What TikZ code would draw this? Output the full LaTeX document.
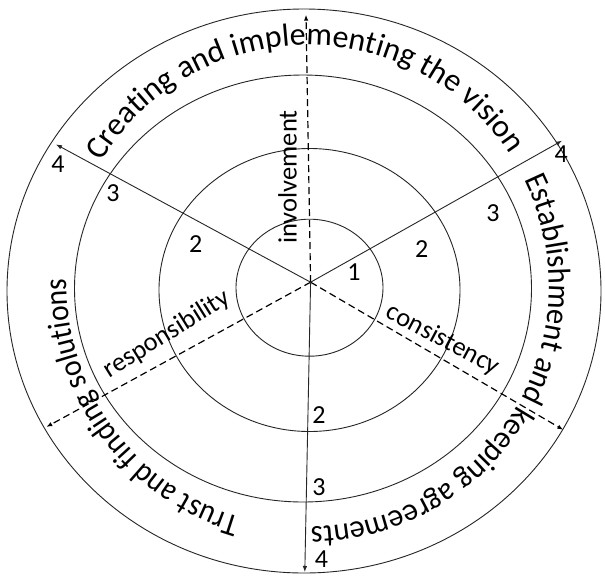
\documentclass[tikz,border=0pt]{standalone}
\usepackage{fontspec}
\setmainfont{Carlito}
\newfontfamily\ringA{Carlito}
\newfontfamily\ringB[FakeStretch=0.95]{Carlito}
\newfontfamily\ringC[FakeStretch=0.92]{Carlito}
\usetikzlibrary{arrows.meta,decorations.text}
\newcommand{\ringsize}{\fontsize{32}{38}\selectfont}
\begin{document}
\begin{tikzpicture}[x=1pt,y=1pt,
  ring/.style={draw=black!85, line width=0.9pt},
  solidray/.style={draw=black!85, line width=0.9pt, -{Latex[length=6pt,width=4.5pt]}},
  dashray/.style={draw=black, line width=1.2pt, dash pattern=on 7pt off 4pt, -{Latex[length=6pt,width=4.5pt]}},
  lbl/.style={font=\fontsize{26.5}{30}\selectfont, inner sep=0pt},
  num/.style={font=\fontsize{26}{30}\selectfont, inner sep=0pt},
  ringtext/.style 2 args={decorate, decoration={text along path, text align=center, text={|#1\ringsize|#2}}}]
\useasboundingbox (0,0) rectangle (605,-576);
\fill[white] (0,0) rectangle (605,-576);

% rings
\draw[ring] (309.5,-287.7) ellipse [x radius=73.5pt, y radius=68.5pt];
\draw[ring] (309.5,-290) ellipse [x radius=150.5pt, y radius=141.5pt];
\draw[ring] (303,-288.5) ellipse [x radius=228.5pt, y radius=213.5pt];
\draw[ring] (304,-291) ellipse [x radius=297pt, y radius=282pt];

% ring texts
\coordinate (tc) at (308,-286);
\path[ringtext={\ringA}{Creating and implementing the vision}]
  (tc) ++(171:241pt) arc[start angle=171, end angle=11, radius=241pt];
\path[ringtext={\ringB}{Establishment and keeping agreements}]
  (tc) ++(58.5:241pt) arc[start angle=58.5, end angle=-121.5, radius=241pt];
\path[ringtext={\ringC}{Trust and finding solutions}]
  (tc) ++(-54:241pt) arc[start angle=-54, end angle=-234, radius=241pt];

% rays
\coordinate (hub) at (310.6,-282.2);
\coordinate (tipN) at (306,-14.7);
\coordinate (tipS) at (304.8,-572);
\coordinate (tipNW) at (56,-144.4);
\coordinate (tipNE) at (562,-140.7);
\coordinate (tipSW) at (46.3,-427);
\coordinate (tipSE) at (563.3,-429.8);
\draw[dashray] (hub) -- (tipN);
\draw[dashray] (hub) -- (tipSW);
\draw[dashray] (hub) -- (tipSE);
\draw[solidray] (hub) -- (tipNW);
\draw[solidray] (hub) -- (tipNE);
\draw[solidray] (hub) -- (tipS);

% axis labels
\node[lbl, rotate=90] (inv) at (287.4,-177) {involvement};
\node[lbl, rotate=32] (resp) at (166.8,-334.3) {responsibility};
\node[lbl, rotate=-28] (cons) at (443,-340) {consistency};

% level numbers
\node[num] (n1) at (354,-272) {1};
\node[num] (ne2) at (421.7,-249) {2};
\node[num] (ne3) at (493,-213) {3};
\node[num] (ne4) at (561.3,-154) {4};
\node[num] (nw2) at (195.6,-244.3) {2};
\node[num] (nw3) at (113,-193.6) {3};
\node[num] (nw4) at (57.9,-164.2) {4};
\node[num] (s2) at (319,-415) {2};
\node[num] (s3) at (319,-486.8) {3};
\node[num] (s4) at (321.4,-559) {4};
\end{tikzpicture}
\end{document}
